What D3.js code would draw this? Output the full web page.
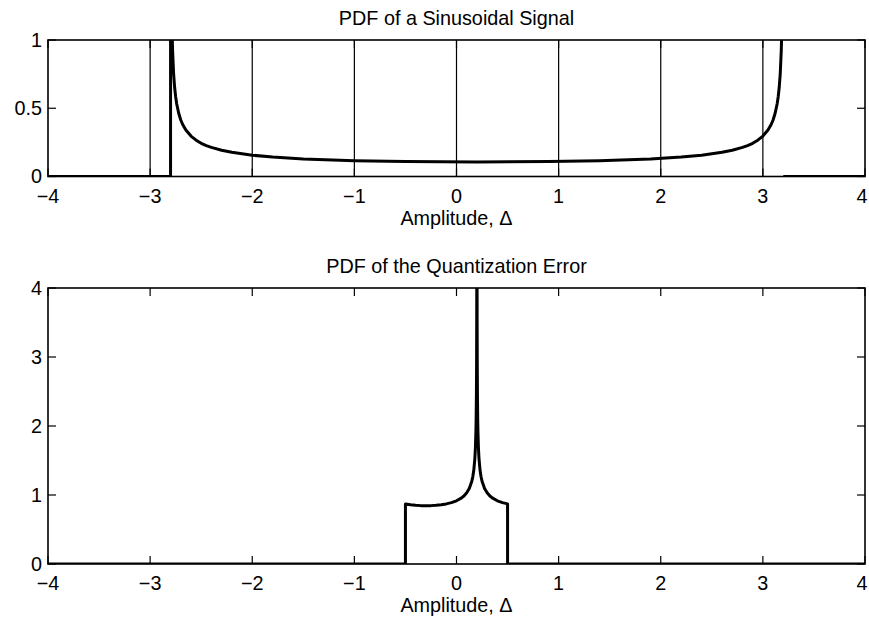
<!DOCTYPE html>
<html>
<head>
<meta charset="utf-8">
<script src="https://cdn.jsdelivr.net/npm/d3@7"></script>
<style>
  html, body { margin: 0; padding: 0; background: #fff; }
  svg { display: block; }
  text { font-family: "Liberation Sans", Arial, Helvetica, sans-serif; fill: #000; }
</style>
</head>
<body>
<svg id="chart" width="869" height="622"></svg>
<script>
// ---- data ----
const xTicks = [-4, -3, -2, -1, 0, 1, 2, 3, 4];
const yTicksTop = [0, 0.5, 1];
const yTicksBottom = [0, 1, 2, 3, 4];
const levels = [-3, -2, -1, 0, 1, 2, 3];

const topTitle = "PDF of a Sinusoidal Signal";
const bottomTitle = "PDF of the Quantization Error";
const xLabel = "Amplitude, \u0394";

// PDF of sinusoid (NaN = break in the line)
const sinX = [-4, -2.8, -2.799, -2.79, -2.785, -2.78, -2.77, -2.76, -2.75, -2.74, -2.72, -2.7, -2.68, -2.65, -2.6, -2.55, -2.5,
              -2.45, -2.4, -2.3, -2.2, -2.0, -1.8, -1.5, -1.0, -0.5, 0.2,
              0.9, 1.4, 1.9, 2.2, 2.4, 2.6, 2.7, 2.8, 2.85, 2.9, 2.95, 3.0, 3.05, 3.08, 3.1, 3.12, 3.14, 3.15, 3.16, 3.17, 3.18,
              3.185, 3.19, 3.199, 3.1995, 3.2, 4];
const sinY = [0, 0, 4.11, 1.301, 1.062, 0.921, 0.752, 0.652, 0.584, 0.533, 0.463, 0.414, 0.379, 0.340, 0.296, 0.266, 0.243,
              0.226, 0.213, 0.192, 0.177, 0.156, 0.142, 0.129, 0.116, 0.109, 0.106,
              0.109, 0.116, 0.129, 0.142, 0.156, 0.177, 0.192, 0.213, 0.226, 0.243, 0.266, 0.296, 0.340, 0.379, 0.414, 0.463, 0.533, 0.584, 0.652, 0.752, 0.921,
              1.062, 1.301, 4.11, NaN, 0, 0];

// PDF of quantization error
const errX = [-4, -0.5, -0.5, -0.45, -0.4, -0.35, -0.3, -0.25, -0.2, -0.15, -0.1, -0.05, 0, 0.05, 0.075, 0.1, 0.125, 0.15, 0.16, 0.17, 0.18,
              0.185, 0.19, 0.192, 0.195, 0.197, 0.198, 0.199,
              0.201, 0.202, 0.203, 0.205, 0.208, 0.21, 0.215, 0.22, 0.23, 0.24, 0.25, 0.275, 0.3, 0.325, 0.35, 0.4, 0.45, 0.5, 0.5, 4];
const errY = [0, 0, 0.871, 0.858, 0.850, 0.846, 0.844, 0.846, 0.850, 0.858, 0.871, 0.889, 0.916, 0.958, 0.989, 1.032, 1.094, 1.200, 1.268, 1.368, 1.536,
              1.678, 1.917, 2.070, 2.455, 2.989, 3.52, 4.72,
              4.72, 3.52, 2.989, 2.455, 2.070, 1.917, 1.678, 1.536, 1.368, 1.268, 1.200, 1.094, 1.032, 0.989, 0.958, 0.916, 0.889, 0.871, 0, 0];

// ---- drawing ----
const W = 869;
const svg = d3.select("#chart");
const fontSize = 19.8;
const tickLen = 8;

function panel(cfg) {
  const { top, bottom, left, right, yDomain, yTicks, yFmt, xs, ys, title, id, grid } = cfg;
  const x = d3.scaleLinear().domain([-4, 4]).range([left, right]);
  const y = d3.scaleLinear().domain(yDomain).range([bottom, top]);
  const g = svg.append("g");

  g.append("clipPath").attr("id", id).append("rect")
    .attr("x", left).attr("y", top).attr("width", right - left).attr("height", bottom - top);

  // vertical level lines
  if (grid) {
    g.selectAll(".lvl").data(grid).enter().append("line")
      .attr("x1", d => x(d)).attr("x2", d => x(d))
      .attr("y1", y(yDomain[0])).attr("y2", y(yDomain[1]))
      .attr("stroke", "#000").attr("stroke-width", 1.2);
  }

  // ticks (inward, on all four sides)
  const tk = g.append("g").attr("stroke", "#000").attr("stroke-width", 1.2);
  xTicks.forEach(t => {
    tk.append("line").attr("x1", x(t)).attr("x2", x(t)).attr("y1", bottom).attr("y2", bottom - tickLen);
    tk.append("line").attr("x1", x(t)).attr("x2", x(t)).attr("y1", top).attr("y2", top + tickLen);
  });
  yTicks.forEach(t => {
    tk.append("line").attr("x1", left).attr("x2", left + tickLen).attr("y1", y(t)).attr("y2", y(t));
    tk.append("line").attr("x1", right).attr("x2", right - tickLen).attr("y1", y(t)).attr("y2", y(t));
  });

  // data line
  const pts = xs.map((v, i) => ({ x: v, y: ys[i] }));
  const line = d3.line().defined(d => !isNaN(d.y)).x(d => x(d.x)).y(d => y(d.y));
  g.append("path").datum(pts).attr("d", line)
    .attr("fill", "none").attr("stroke", "#000").attr("stroke-width", 3)
    .attr("stroke-linejoin", "round").attr("clip-path", `url(#${id})`);

  // frame
  g.append("rect").attr("x", left).attr("y", top).attr("width", right - left).attr("height", bottom - top)
    .attr("fill", "none").attr("stroke", "#000").attr("stroke-width", 1.6);

  // tick labels (keep the last one inside the page)
  g.selectAll(".xl").data(xTicks).enter().append("text")
    .attr("x", d => Math.min(x(d), W - 7)).attr("y", bottom + 26).attr("text-anchor", "middle")
    .attr("font-size", fontSize)
    .text(d => d < 0 ? "\u2212" + Math.abs(d) : String(d));
  g.selectAll(".yl").data(yTicks).enter().append("text")
    .attr("x", left - 6).attr("y", d => y(d)).attr("dy", "0.35em").attr("text-anchor", "end")
    .attr("font-size", fontSize)
    .text(yFmt);

  // title and x label
  g.append("text").attr("x", (left + right) / 2).attr("y", top - 15).attr("text-anchor", "middle")
    .attr("font-size", fontSize).text(title);
  g.append("text").attr("x", (left + right) / 2).attr("y", bottom + 48).attr("text-anchor", "middle")
    .attr("font-size", fontSize).text(xLabel);
}

panel({ top: 40, bottom: 176.5, left: 48, right: 865, yDomain: [0, 1], yTicks: yTicksTop,
        yFmt: d => String(d), xs: sinX, ys: sinY, title: topTitle, id: "clipTop", grid: levels });
panel({ top: 288, bottom: 564, left: 48, right: 865, yDomain: [0, 4], yTicks: yTicksBottom,
        yFmt: d => String(d), xs: errX, ys: errY, title: bottomTitle, id: "clipBot", grid: null });
</script>
</body>
</html>
